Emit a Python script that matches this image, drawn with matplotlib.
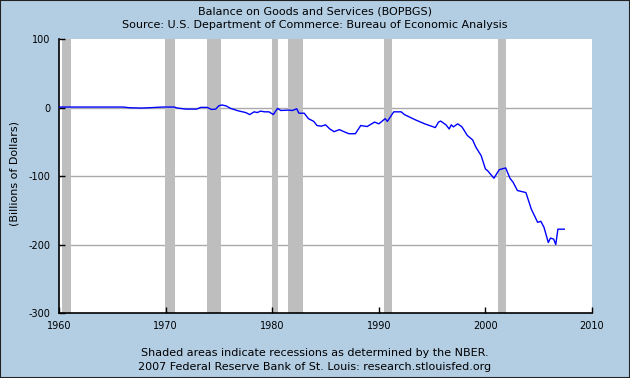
import matplotlib.pyplot as plt

# balance on goods and services, billions of dollars
dates = [1960.0, 1962.0, 1964.0, 1966.0, 1966.6, 1967.7, 1968.5, 1969.7, 1970.8,
         1971.1, 1971.9, 1972.9, 1973.3, 1973.9, 1974.3, 1974.7, 1975.0, 1975.3,
         1975.7, 1976.1, 1976.8, 1977.5, 1977.9, 1978.3, 1978.6, 1978.9, 1979.3,
         1979.7, 1980.1, 1980.5, 1980.8, 1981.5, 1981.9, 1982.3, 1982.5, 1983.0,
         1983.4, 1983.9, 1984.2, 1984.6, 1985.0, 1985.4, 1985.8, 1986.3, 1986.8,
         1987.2, 1987.8, 1988.3, 1988.9, 1989.6, 1990.0, 1990.6, 1990.8, 1991.4,
         1992.1, 1992.4, 1993.4, 1994.3, 1995.3, 1995.6, 1995.8, 1996.3, 1996.6,
         1996.8, 1997.0, 1997.4, 1997.8, 1998.3, 1998.8, 1999.1, 1999.6, 2000.0,
         2000.2, 2000.8, 2001.3, 2001.9, 2002.3, 2002.6, 2003.0, 2003.8, 2004.3,
         2004.9, 2005.2, 2005.5, 2005.9, 2006.1, 2006.4, 2006.6, 2006.8, 2007.4]
balance = [1, 1, 1, 1, 0, -0.5, 0, 1, 1,
           -0.5, -2, -2, 0.5, 0.5, -2.5, -2, 3, 4,
           2.5, -1, -4.5, -7, -10, -6, -7, -5, -6,
           -6, -10, -1, -4, -3.5, -4, -1.5, -8, -8,
           -16, -20, -26, -27, -25, -31, -35, -32, -35.5,
           -38, -38, -26, -27.5, -21, -23.5, -16, -20, -6,
           -6, -10, -17.5, -23.5, -29, -21, -19.5, -25, -31,
           -25, -28, -23.5, -28, -40.5, -47, -57.5, -70, -89.5,
           -92, -103, -90.5, -88, -103, -109, -121, -124, -148,
           -167.5, -166, -175, -197, -190.5, -192, -200, -177.5, -177.5]

# NBER recessions
rec_start = [1960.25, 1969.9, 1973.9, 1980.0, 1981.5, 1990.5, 2001.2]
rec_end = [1961.1, 1970.9, 1975.2, 1980.5, 1982.9, 1991.2, 2001.9]

yticks = [-300, -200, -100, 0, 100]
ytick_labels = ['-300', '-200', '-100', '0', '100']

bg = '#b3cde3'
fig = plt.figure(figsize=(6.3, 3.78), dpi=100, facecolor=bg)
fig.patches.append(plt.Rectangle((0, 0), 1, 1, transform=fig.transFigure,
                                 fill=False, edgecolor='#222222', linewidth=1.5))
ax = fig.add_axes([0.0937, 0.1720, 0.8460, 0.7240])

for s, e in zip(rec_start, rec_end):
    ax.axvspan(s, e, color='#bebebe', lw=0, zorder=1)
for g in [0, -100, -200]:
    ax.axhline(g, color='#aaaaaa', lw=1, zorder=0.5)

ax.plot(dates, balance, color='#0000ff', lw=1, zorder=3)

ax.set_xlim(1960, 2010)
ax.set_ylim(-300, 100)
ax.set_xticks(range(1960, 2011, 10))
ax.set_yticks(yticks)
ax.set_yticklabels(ytick_labels)
ax.tick_params(direction='in', length=4, width=1, labelsize=7, pad=6, colors='black')
for sp in ['top', 'right']:
    ax.spines[sp].set_visible(False)
for sp in ['left', 'bottom']:
    ax.spines[sp].set_linewidth(1.2)

fig.text(15 / 630, 1 - 173 / 378, '(Billions of Dollars)', rotation=90,
         ha='center', va='center', fontsize=8)

fig.text(0.5, 1 - 11 / 378, 'Balance on Goods and Services (BOPBGS)',
         ha='center', va='center', fontsize=8)
fig.text(0.5, 1 - 25 / 378, 'Source: U.S. Department of Commerce: Bureau of Economic Analysis',
         ha='center', va='center', fontsize=8)
fig.text(0.5, 0.067, 'Shaded areas indicate recessions as determined by the NBER.',
         ha='center', va='center', fontsize=8)
fig.text(0.5, 0.028, '2007 Federal Reserve Bank of St. Louis: research.stlouisfed.org',
         ha='center', va='center', fontsize=8)

fig.savefig('out.png', dpi=100, facecolor=bg)
